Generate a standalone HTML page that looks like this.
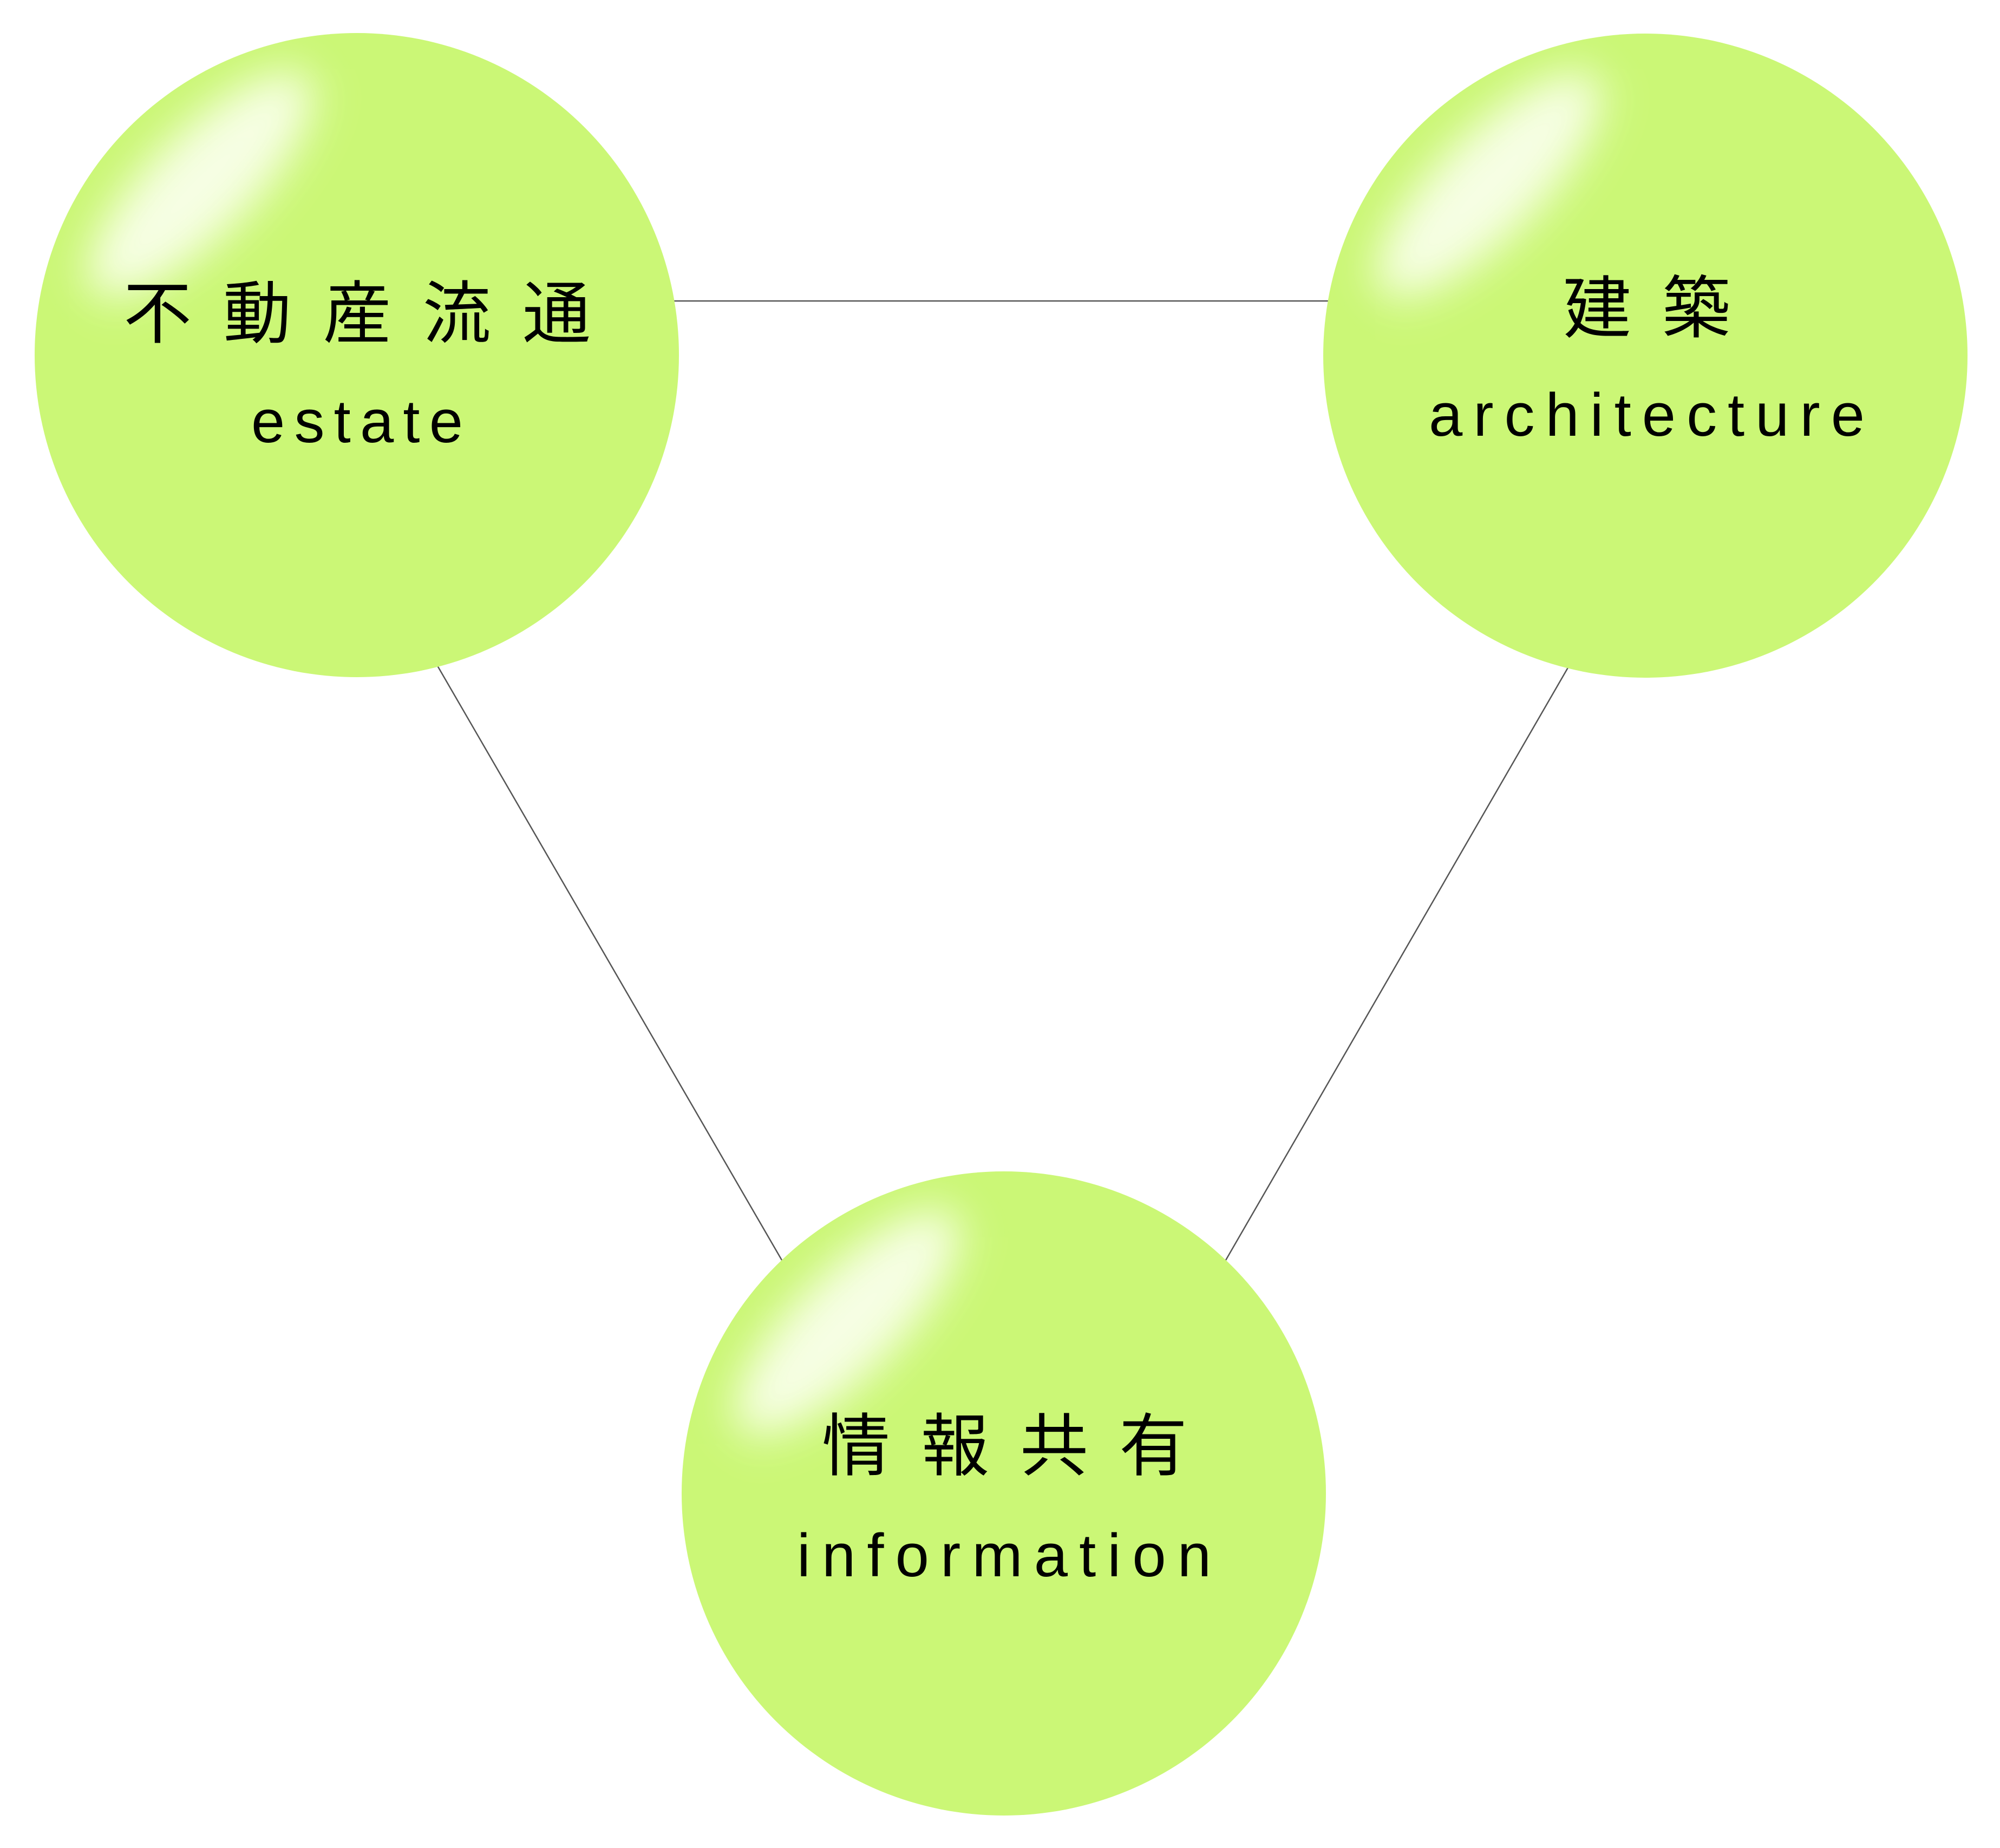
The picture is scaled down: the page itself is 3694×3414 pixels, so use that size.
<!DOCTYPE html>
<html><head><meta charset="utf-8"><style>html,body{margin:0;padding:0;background:#fff}svg{display:block}</style></head><body>
<svg xmlns="http://www.w3.org/2000/svg" width="3694" height="3414" viewBox="0 0 3694 3414">
<defs>
<filter id="b" x="-50%" y="-50%" width="200%" height="200%"><feGaussianBlur stdDeviation="40"/></filter>
<clipPath id="c1"><circle cx="659" cy="656" r="595"/></clipPath>
<clipPath id="c2"><circle cx="3039" cy="657" r="595"/></clipPath>
<clipPath id="c3"><circle cx="1854" cy="2759" r="595"/></clipPath>
</defs>
<g stroke="#555" stroke-width="2.5" fill="none">
<line x1="1240" y1="556" x2="2460" y2="556"/>
<line x1="808" y1="1230" x2="1444" y2="2328"/>
<line x1="2898" y1="1230" x2="2264" y2="2328"/>
</g>
<g fill="#cbf776">
<circle cx="659" cy="656" r="595"/>
<circle cx="3039" cy="657" r="595"/>
<circle cx="1854" cy="2759" r="595"/>
</g>
<g clip-path="url(#c1)"><ellipse cx="370" cy="340" rx="280" ry="95" transform="rotate(-45 370 340)" fill="#fbfff0" opacity="0.9" filter="url(#b)"/></g>
<g clip-path="url(#c2)"><ellipse cx="2750" cy="341" rx="280" ry="95" transform="rotate(-45 2750 341)" fill="#fbfff0" opacity="0.9" filter="url(#b)"/></g>
<g clip-path="url(#c3)"><ellipse cx="1565" cy="2443" rx="280" ry="95" transform="rotate(-45 1565 2443)" fill="#fbfff0" opacity="0.9" filter="url(#b)"/></g>
<g font-family="'Liberation Sans','Noto Sans CJK JP',sans-serif" fill="#000">
<text x="228" y="580" dominant-baseline="central" font-size="126" textLength="863" lengthAdjust="spacing">不動産流通</text>
<text x="2887" y="570" dominant-baseline="central" font-size="126" textLength="309" lengthAdjust="spacing">建築</text>
<text x="1518" y="2672" dominant-baseline="central" font-size="126" textLength="675" lengthAdjust="spacing">情報共有</text>
<text x="464" y="817" font-size="112" textLength="391" lengthAdjust="spacing">estate</text>
<text x="2639" y="805" font-size="112" textLength="805" lengthAdjust="spacing">architecture</text>
<text x="1472" y="2912" font-size="112" textLength="765" lengthAdjust="spacing">information</text>
</g>
</svg>
</body></html>
